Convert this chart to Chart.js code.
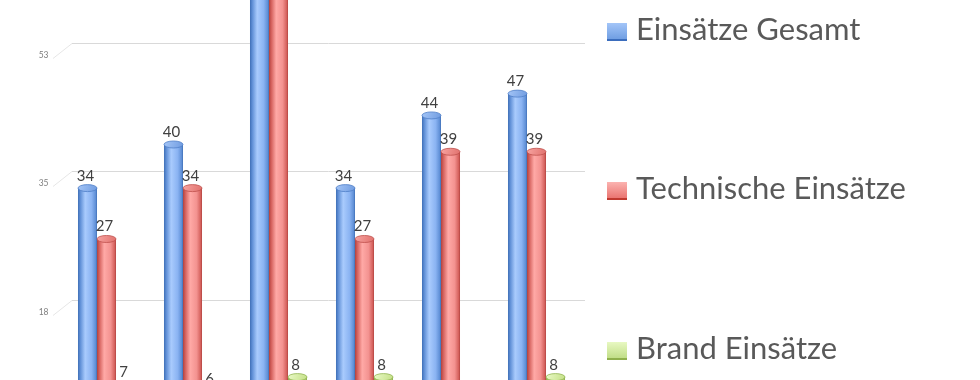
<!DOCTYPE html>
<html><head><meta charset="utf-8">
<script src="https://cdn.jsdelivr.net/npm/chart.js@4/dist/chart.umd.min.js"></script>
<style>html,body{margin:0;padding:0;background:#fff;overflow:hidden}#wrap{width:980px;height:380px;position:relative}</style>
</head><body><div id="wrap"><canvas id="c" width="980" height="380"></canvas></div>
<script>
const categories = ['1', '2', '3', '4', '5', '6'];
const seriesNames = ['Einsätze Gesamt', 'Technische Einsätze', 'Brand Einsätze'];
const gesamt = [34, 40, 66, 34, 44, 47];
const technische = [27, 34, 62, 27, 39, 39];
const brand = [7, 6, 8, 8, 4, 8];
const tickValues = [17.67, 35.33, 53];
const tickLabels = ['18', '35', '53'];
const yMin = 7.6, yMax = 59.88;

const palettes = [
  {edge:'#3f6fb6', dark:'#5f8fd6', light:'#a9cbfd', mid:'#8ab3f2', lidA:'#a5c6f7', lidB:'#6f9be0', lidEdge:'#4f7fc8', legA:'#a3c5f8', legB:'#6a9ae0', legEdge:'#3b6dbd'},
  {edge:'#b0423f', dark:'#d4605c', light:'#ffa9a6', mid:'#f39290', lidA:'#f8a5a2', lidB:'#e0706c', lidEdge:'#bf504c', legA:'#fbb3b0', legB:'#e86d69', legEdge:'#c0392f'},
  {edge:'#86a845', dark:'#afcd72', light:'#e9f9c4', mid:'#d3eb9f', lidA:'#eafac8', lidB:'#c3df85', lidEdge:'#93b554', legA:'#e8f8c2', legB:'#bcdb80', legEdge:'#8fb04c'}
];

function drawCyl(ctx, x, top, base, w, p) {
  const l = x - w / 2, r = x + w / 2, ry = 3.5;
  const g = ctx.createLinearGradient(l, 0, r, 0);
  g.addColorStop(0, p.edge); g.addColorStop(0.12, p.dark); g.addColorStop(0.38, p.light);
  g.addColorStop(0.72, p.mid); g.addColorStop(0.93, p.dark); g.addColorStop(1, p.edge);
  ctx.fillStyle = g;
  ctx.fillRect(l, top, w, base - top);
  const lg = ctx.createLinearGradient(l, top - ry, r, top + ry);
  lg.addColorStop(0, p.lidA); lg.addColorStop(1, p.lidB);
  ctx.beginPath(); ctx.ellipse(x, top, w / 2, ry, 0, 0, Math.PI * 2);
  ctx.fillStyle = lg; ctx.fill();
  ctx.lineWidth = 0.8; ctx.strokeStyle = p.lidEdge; ctx.stroke();
}

const cylPlugin = {
  id: 'cyl',
  beforeDatasetsDraw(chart) {
    const ctx = chart.ctx, ys = chart.scales.y;
    ctx.save();
    ys.ticks.forEach(t => {
      const yp = Math.round(ys.getPixelForValue(t.value) - 7) + 0.5;
      ctx.strokeStyle = '#d9d9d9'; ctx.lineWidth = 1;
      ctx.beginPath(); ctx.moveTo(72, yp); ctx.lineTo(585, yp); ctx.stroke();
      ctx.strokeStyle = '#e6e6e6';
      ctx.beginPath(); ctx.moveTo(53, yp + 15); ctx.lineTo(72, yp); ctx.stroke();
    });
    ctx.restore();
  },
  afterDatasetsDraw(chart) {
    const ctx = chart.ctx, a = chart.chartArea;
    ctx.save();
    ctx.beginPath(); ctx.rect(a.left - 5, a.top, a.right - a.left + 10, a.bottom - a.top); ctx.clip();
    chart.data.datasets.forEach((ds, di) => {
      chart.getDatasetMeta(di).data.forEach(el => {
        drawCyl(ctx, el.x, el.y, el.base + 20, el.width, palettes[di]);
      });
    });
    ctx.restore();
    ctx.save();
    ctx.font = '15px Lato';
    ctx.fillStyle = '#404040';
    ctx.textAlign = 'center'; ctx.textBaseline = 'alphabetic';
    chart.data.datasets.forEach((ds, di) => {
      chart.getDatasetMeta(di).data.forEach((el, i) => {
        ctx.fillText(String(ds.data[i]), el.x - 2, el.y - 7.5);
      });
    });
    ctx.restore();
  },
  afterDraw(chart) {
    const ctx = chart.ctx;
    const tops = [23, 182, 342];
    ctx.save();
    seriesNames.forEach((name, i) => {
      const p = palettes[i], y = tops[i];
      const g = ctx.createLinearGradient(0, y, 0, y + 18);
      g.addColorStop(0, p.legA); g.addColorStop(1, p.legB);
      ctx.fillStyle = g; ctx.fillRect(607, y, 20, 18);
      ctx.fillStyle = p.legEdge; ctx.fillRect(607, y + 16, 20, 2);
      ctx.font = '31px Lato'; ctx.fillStyle = '#595959';
      ctx.textAlign = 'left'; ctx.textBaseline = 'alphabetic';
      ctx.fillText(name, 636, y + 17);
    });
    ctx.restore();
  }
};

new Chart(document.getElementById('c'), {
  type: 'bar',
  data: {
    labels: categories,
    datasets: [
      {label: seriesNames[0], data: gesamt},
      {label: seriesNames[1], data: technische},
      {label: seriesNames[2], data: brand}
    ].map(d => Object.assign(d, {backgroundColor: 'rgba(0,0,0,0)', borderWidth: 0, categoryPercentage: 0.663, barPercentage: 1}))
  },
  options: {
    responsive: false, animation: false, events: [],
    layout: {padding: {left: 0, right: 400.5, top: 0, bottom: 0}},
    plugins: {legend: {display: false}, tooltip: {enabled: false}},
    scales: {
      x: {display: false},
      y: {
        min: yMin, max: yMax,
        afterBuildTicks: s => { s.ticks = tickValues.map(v => ({value: v})); },
        afterFit: s => { s.width = 63.5; s.paddingTop = 0; s.paddingBottom = 0; },
        ticks: {callback: (v, i) => tickLabels[i], font: {family: 'Lato', size: 8.5}, color: '#7f7f7f', padding: 15, labelOffset: 5},
        grid: {display: false, drawTicks: false},
        border: {display: false}
      }
    }
  },
  plugins: [cylPlugin]
});
</script></body></html>
